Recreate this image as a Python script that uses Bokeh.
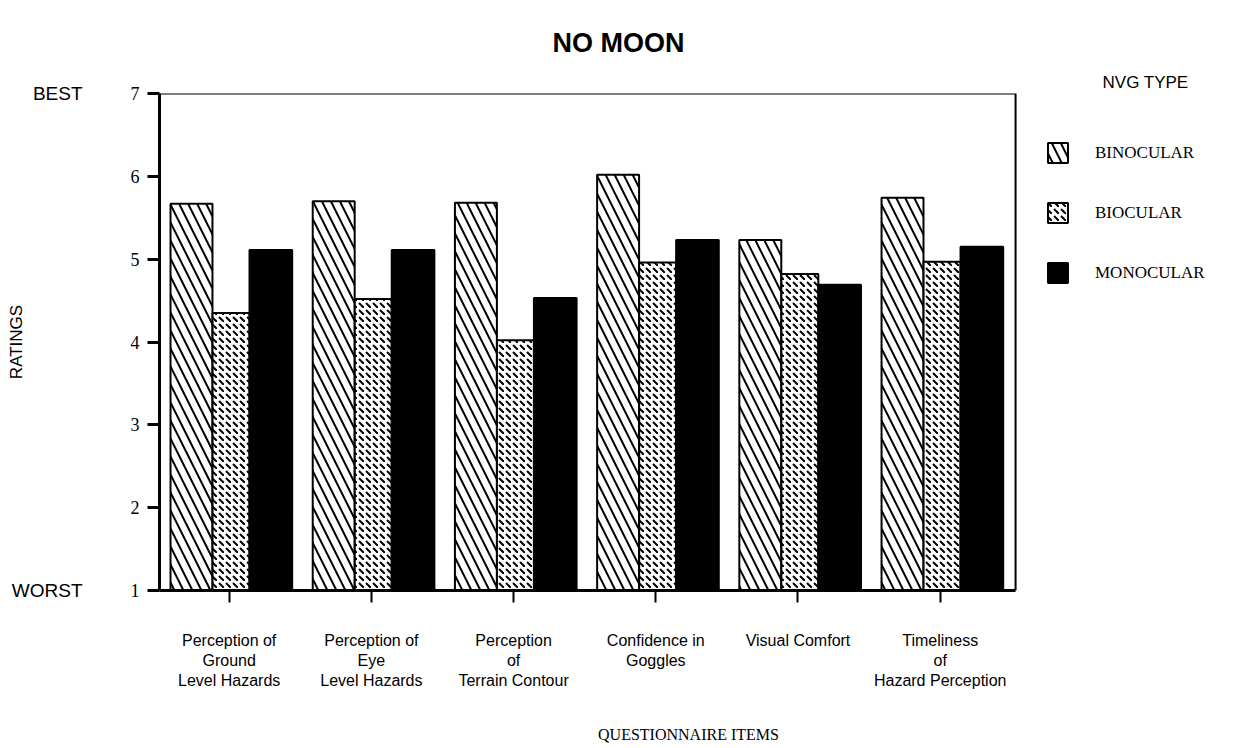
from bokeh.plotting import figure
from bokeh.models import (Range1d, FixedTicker, LinearAxis, Legend, LegendItem,
                          Title, ColumnDataSource, BoxAnnotation)
from bokeh.transform import dodge
from bokeh.embed import file_html
from bokeh.resources import INLINE

# ---------------- data ----------------
items = [
    "Perception of\nGround\nLevel Hazards",
    "Perception of\nEye\nLevel Hazards",
    "Perception\nof\nTerrain Contour",
    "Confidence in\nGoggles",
    "Visual Comfort",
    "Timeliness\nof\nHazard Perception",
]
binocular = [5.67, 5.70, 5.68, 6.02, 5.23, 5.74]
biocular = [4.35, 4.52, 4.02, 4.96, 4.82, 4.97]
monocular = [5.11, 5.11, 4.53, 5.23, 4.69, 5.15]
series_names = ["BINOCULAR", "BIOCULAR", "MONOCULAR"]
y_ticks = [1, 2, 3, 4, 5, 6, 7]
y_words = {7: "BEST", 1: "WORST"}

pos = list(range(len(items)))
src = ColumnDataSource(dict(x=pos, bin=binocular, bio=biocular, mono=monocular))

# chart box (data area) and the wider view that leaves room for the legend
x_lo, x_hi = -0.49, 5.53
x_view_hi = 6.95
y_lo, y_hi = 1, 7

p = figure(frame_width=1058, frame_height=497, output_backend="svg", toolbar_location=None,
           x_range=Range1d(x_lo, x_view_hi), y_range=Range1d(y_lo, y_hi),
           min_border_left=159, min_border_right=0, min_border_top=93,
           min_border_bottom=149, title_location=None)
p.xgrid.visible = False
p.ygrid.visible = False
p.outline_line_color = None

box = BoxAnnotation(left=x_lo, right=x_hi, bottom=y_lo, top=y_hi,
                    fill_alpha=0, line_color="black", line_width=2, line_alpha=1)
p.add_layout(box)

r_bin = p.vbar(x=dodge("x", -0.265, range=p.x_range), top="bin", bottom=y_lo, width=0.295,
               source=src, fill_color="white", line_color="black", line_width=2,
               hatch_pattern="left_diagonal_line", hatch_scale=18, hatch_weight=2,
               hatch_color="black")
r_bio = p.vbar(x=dodge("x", 0.013, range=p.x_range), top="bio", bottom=y_lo, width=0.26,
               source=src, fill_color="white", line_color="black", line_width=2,
               hatch_pattern="left_diagonal_dash", hatch_scale=7, hatch_weight=2,
               hatch_color="black")
r_mono = p.vbar(x=dodge("x", 0.293, range=p.x_range), top="mono", bottom=y_lo, width=0.30,
                source=src, fill_color="black", line_color="black", line_width=2)

# ---------------- y axis (numbers) ----------------
ya = p.yaxis[0]
ya.ticker = FixedTicker(ticks=y_ticks)
ya.major_label_text_font = "Liberation Serif"
ya.major_label_text_font_size = "18px"
ya.major_label_text_color = "black"
ya.major_tick_out = 12
ya.major_tick_in = 0
ya.minor_tick_out = 0
ya.minor_tick_in = 0
ya.axis_line_width = 3
ya.major_tick_line_width = 3
ya.major_label_standoff = 8

# outer axis with BEST / WORST and RATINGS
ya2 = LinearAxis(ticker=FixedTicker(ticks=list(y_words.keys())),
                 major_label_overrides=y_words,
                 axis_line_color=None, major_tick_line_color=None,
                 minor_tick_line_color=None,
                 major_label_standoff=39,
                 major_label_text_font="Liberation Sans",
                 major_label_text_font_size="19px",
                 major_label_text_color="black",
                 axis_label="RATINGS",
                 axis_label_text_font="Liberation Sans",
                 axis_label_text_font_style="normal",
                 axis_label_text_font_size="17px",
                 axis_label_text_color="black",
                 axis_label_standoff=-17)
p.add_layout(ya2, "left")

# ---------------- x axis ----------------
xa = p.xaxis[0]
xa.bounds = (x_lo, x_hi)
xa.ticker = FixedTicker(ticks=pos)
xa.major_label_overrides = {i: items[i] for i in pos}
xa.major_label_text_font = "Liberation Sans"
xa.major_label_text_font_size = "16px"
xa.major_label_text_color = "black"
xa.major_tick_out = 12
xa.major_tick_in = 0
xa.minor_tick_out = 0
xa.minor_tick_in = 0
xa.axis_line_width = 3
xa.major_tick_line_width = 2
xa.major_label_standoff = 29
xa.axis_label = "QUESTIONNAIRE ITEMS"
xa.axis_label_text_font = "Liberation Serif"
xa.axis_label_text_font_style = "normal"
xa.axis_label_text_font_size = "16px"
xa.axis_label_text_color = "black"
xa.axis_label_standoff = 34

# ---------------- titles ----------------
t_leg = Title(text="NVG TYPE", align="right", offset=29,
              text_font="Liberation Sans", text_font_size="17px",
              text_font_style="normal", text_color="black", standoff=4)
p.add_layout(t_leg, "above")
t_main = Title(text="NO MOON", align="left", offset=393,
               text_font="Liberation Sans", text_font_size="27px",
               text_font_style="bold", text_color="black", standoff=22)
p.add_layout(t_main, "above")

# ---------------- legend ----------------
legend = Legend(items=[LegendItem(label=series_names[0], renderers=[r_bin]),
                       LegendItem(label=series_names[1], renderers=[r_bio]),
                       LegendItem(label=series_names[2], renderers=[r_mono])],
                location=(886, 305), glyph_width=25, glyph_height=25, spacing=35,
                label_standoff=25, label_text_font="Liberation Serif",
                label_text_font_size="17px", label_text_color="black",
                padding=0, margin=0,
                border_line_color=None, background_fill_alpha=0)
p.add_layout(legend, "center")

open("out.html", "w").write(file_html(p, INLINE))
